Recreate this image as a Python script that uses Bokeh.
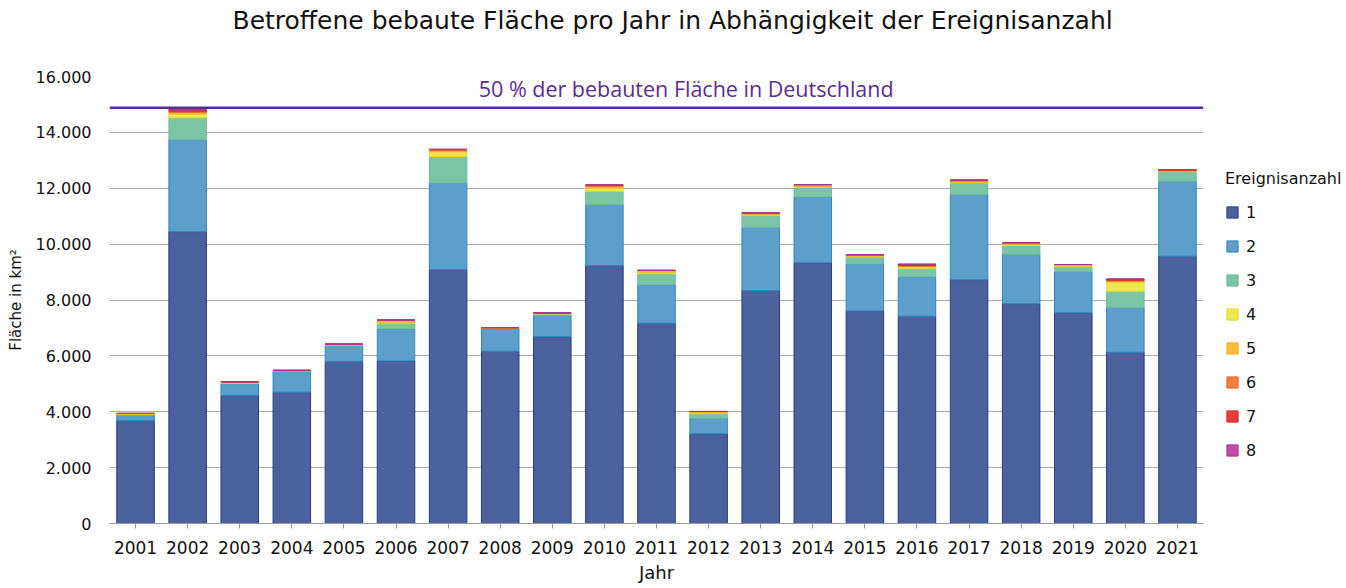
from bokeh.plotting import figure
from bokeh.models import Range1d, FixedTicker, Legend, LegendItem, Span, Label, ColumnDataSource, Title
from bokeh.embed import file_html
from bokeh.resources import INLINE

# ---- data ----
years = [2001, 2002, 2003, 2004, 2005, 2006, 2007, 2008, 2009, 2010, 2011,
         2012, 2013, 2014, 2015, 2016, 2017, 2018, 2019, 2020, 2021]
n1 = [3690, 10450, 4580, 4700, 5800, 5820, 9090, 6170, 6690, 9230, 7170,
      3210, 8340, 9330, 7610, 7420, 8730, 7870, 7540, 6130, 9570]
n2 = [190, 3290, 420, 750, 560, 1150, 3100, 800, 760, 2190, 1380,
      560, 2260, 2360, 1680, 1410, 3050, 1770, 1480, 1590, 2680]
n3 = [20, 780, 20, 30, 30, 200, 950, 20, 50, 470, 390,
      160, 430, 350, 250, 290, 410, 310, 170, 590, 340]
n4 = [30, 140, 30, 0, 30, 40, 170, 20, 40, 120, 60,
      40, 40, 30, 30, 70, 30, 40, 40, 340, 20]
n5 = [10, 60, 20, 0, 0, 70, 40, 0, 0, 60, 60,
      40, 20, 60, 50, 20, 40, 60, 40, 30, 20]
n6 = [0, 40, 0, 0, 0, 0, 40, 0, 0, 50, 0,
      0, 20, 0, 0, 30, 30, 0, 0, 30, 20]
n7 = [0, 40, 0, 0, 0, 0, 0, 0, 0, 0, 0,
      0, 20, 0, 0, 40, 0, 0, 0, 40, 20]
n8 = [0, 20, 0, 0, 0, 0, 0, 0, 0, 0, 0,
      0, 0, 0, 0, 0, 0, 0, 0, 0, 0]
counts = ["1", "2", "3", "4", "5", "6", "7", "8"]
y_ticks = [0, 2000, 4000, 6000, 8000, 10000, 12000, 14000, 16000]
y_tick_labels = ["0", "2.000", "4.000", "6.000", "8.000", "10.000", "12.000", "14.000", "16.000"]
half_value = 14880
half_text = "50 % der bebauten Fläche in Deutschland"
half_text_x = 2011.57
title_text = "Betroffene bebaute Fläche pro Jahr in Abhängigkeit der Ereignisanzahl"

fill_colors = ["#4b629e", "#5e9ecb", "#7bc4a5", "#ede84c", "#f8bd3c", "#ef8040", "#e53c3c", "#c24ba6"]
line_colors = ["#26397f", "#2e86c1", "#6dbd9b", "#e0d838", "#f0aa28", "#e06c30", "#d02828", "#a83890"]
purple = "#5a2d8e"
FONT = "DejaVu Sans"

src = ColumnDataSource(data=dict(year=years, **{"1": n1, "2": n2, "3": n3, "4": n4,
                                                "5": n5, "6": n6, "7": n7, "8": n8}))

p = figure(frame_width=1094, frame_height=447, output_backend="svg", toolbar_location=None,
           x_range=Range1d(2000.5, 2021.5), y_range=Range1d(0, 16000),
           min_border_left=109, min_border_right=141, min_border_top=76, min_border_bottom=62,
           title=None)
p.outline_line_color = None
p.background_fill_color = "white"

# spacer between frame and title (nearest to frame), then the real title
p.add_layout(Title(text=" ", text_font_size="1px", standoff=39), "above")
p.add_layout(Title(text=title_text, text_font=FONT, text_font_size="25px",
                   text_font_style="normal", text_color="#111111",
                   align="left", offset=123, standoff=0), "above")

renderers = p.vbar_stack(counts, x="year", width=0.72, source=src,
                         fill_color=fill_colors, line_color=line_colors, line_width=1)

# axes
p.xaxis.ticker = FixedTicker(ticks=years)
p.xaxis.major_label_overrides = {y: str(y) for y in years}
p.xaxis.axis_label = "Jahr"
p.xaxis.axis_line_color = "#999999"
p.xaxis.major_tick_line_color = "#999999"
p.xaxis.major_tick_in = 0
p.xaxis.major_tick_out = 5
p.xaxis.minor_tick_line_color = None
p.xaxis.minor_tick_in = 0
p.xaxis.minor_tick_out = 0
p.xaxis.major_label_standoff = 12
p.xaxis.axis_label_standoff = 5

p.yaxis.ticker = FixedTicker(ticks=y_ticks)
p.yaxis.major_label_overrides = dict(zip(y_ticks, y_tick_labels))
p.yaxis.axis_label = "Fläche in km²"
p.yaxis.axis_line_color = None
p.yaxis.major_tick_line_color = None
p.yaxis.minor_tick_line_color = None
p.yaxis.major_tick_in = 0
p.yaxis.major_tick_out = 0
p.yaxis.minor_tick_in = 0
p.yaxis.minor_tick_out = 0
p.yaxis.major_label_standoff = 18
p.yaxis.axis_label_standoff = 8

for ax, tick_size, lab_size in ((p.xaxis[0], "17px", "18px"), (p.yaxis[0], "16px", "15px")):
    ax.major_label_text_font = FONT
    ax.major_label_text_font_size = tick_size
    ax.major_label_text_color = "#111111"
    ax.axis_label_text_font = FONT
    ax.axis_label_text_font_size = lab_size
    ax.axis_label_text_font_style = "normal"
    ax.axis_label_text_color = "#111111"

p.xgrid.grid_line_color = None
p.ygrid.grid_line_color = "#aaaaaa"
p.ygrid.grid_line_width = 1

# 50 % line
p.add_layout(Span(location=half_value, dimension="width", line_color=purple, line_width=2.5))
p.add_layout(Label(x=half_text_x, y=half_value, y_offset=19, text=half_text,
                   text_align="center", text_baseline="middle",
                   text_font="Open Sans", text_font_size="21.5px", text_color=purple))

legend = Legend(items=[LegendItem(label=c, renderers=[r]) for c, r in zip(counts, renderers)],
                location=(22, 63), title="Ereignisanzahl",
                title_text_font=FONT, title_text_font_size="16px", title_text_font_style="normal",
                title_text_color="#111111", title_standoff=14,
                label_text_font=FONT, label_text_font_size="16px", label_text_color="#111111",
                glyph_width=14, glyph_height=14, label_height=20, spacing=14,
                label_standoff=7, padding=0, margin=0,
                border_line_color=None, background_fill_alpha=0)
p.add_layout(legend, "right")

open("out.html", "w").write(file_html(p, INLINE))
